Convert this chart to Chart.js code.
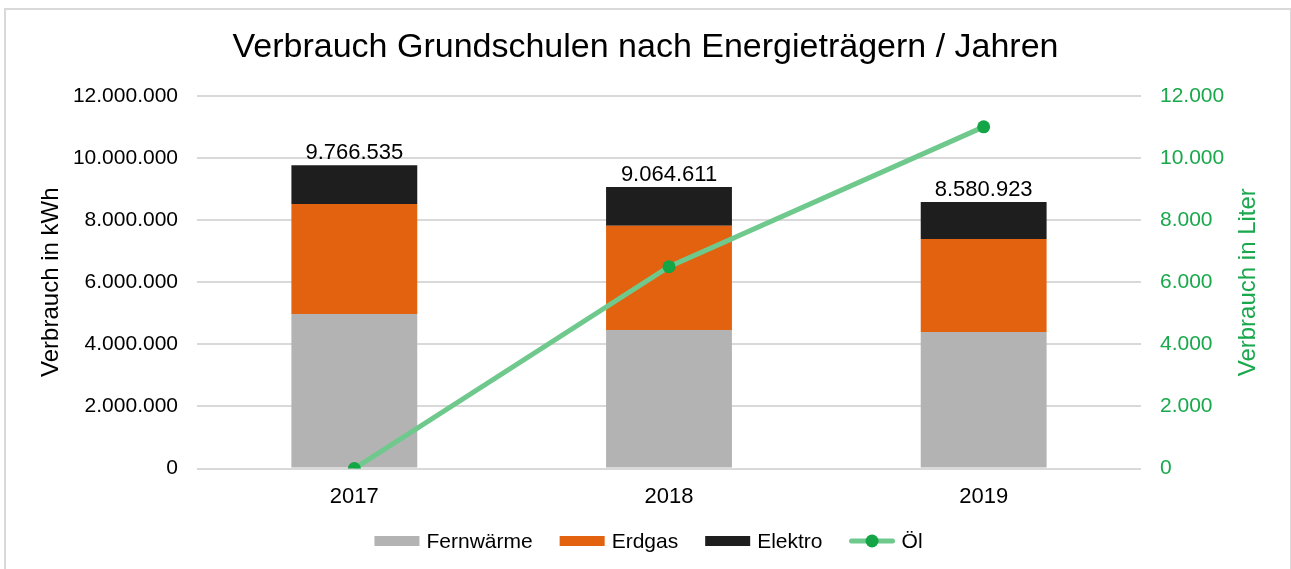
<!DOCTYPE html>
<html lang="de">
<head>
<meta charset="utf-8">
<title>Verbrauch Grundschulen</title>
<script src="https://cdn.jsdelivr.net/npm/chart.js@4.4.1/dist/chart.umd.min.js"></script>
<style>
  html, body { margin: 0; padding: 0; background: #fff; }
  #wrap { position: relative; width: 1291px; height: 569px; overflow: hidden; }
  #frame { position: absolute; left: 4px; top: 8px; width: 1284px; height: 600px;
           border: 2px solid #d9d9d9; pointer-events: none; }
  canvas { position: absolute; left: 0; top: 0; }
</style>
</head>
<body>
<div id="wrap">
  <canvas id="chart" width="1291" height="569"></canvas>
  <div id="frame"></div>
</div>
<script>
// Jahre und Verbrauchswerte je Energieträger
const years = ['2017', '2018', '2019'];
const fernwaerme = [4980000, 4460000, 4400000];
const erdgas = [3540000, 3360000, 2990000];
const elektro = [1246535, 1244611, 1190923];
const oel = [0, 6500, 11000];

const kwhTicks = [0, 2000000, 4000000, 6000000, 8000000, 10000000, 12000000];
const literTicks = [0, 2000, 4000, 6000, 8000, 10000, 12000];

const FONT = "'Liberation Sans', Arial, sans-serif";
const GREEN = '#1aa84c';
const LINE_GREEN = '#6fc98d';
const DOT_GREEN = '#13a546';

// Tausenderpunkte wie im Deutschen
function fmt(v) {
    return String(Math.round(v)).replace(/\B(?=(\d{3})+(?!\d))/g, '.');
}

// Summe über gestapelte Balken schreiben
const totalLabels = {
    id: 'totalLabels',
    afterDatasetsDraw(chart) {
        const ctx = chart.ctx;
        const y = chart.scales.y;
        const top = chart.getDatasetMeta(2);
        ctx.save();
        ctx.font = '22px ' + FONT;
        ctx.fillStyle = '#000';
        ctx.textAlign = 'center';
        ctx.textBaseline = 'bottom';
        years.forEach((yr, i) => {
            const sum = fernwaerme[i] + erdgas[i] + elektro[i];
            ctx.fillText(fmt(sum), top.data[i].x, y.getPixelForValue(sum) - 1);
        });
        ctx.restore();
    }
};

// rechte Achsenbeschriftung von unten nach oben lesen
const rightTitle = {
    id: 'rightTitle',
    afterDraw(chart) {
        const ctx = chart.ctx;
        const a = chart.chartArea;
        ctx.save();
        ctx.translate(chart.scales.y1.right - 43, (a.top + a.bottom) / 2);
        ctx.rotate(-Math.PI / 2);
        ctx.font = '24px ' + FONT;
        ctx.fillStyle = GREEN;
        ctx.textAlign = 'center';
        ctx.textBaseline = 'middle';
        ctx.fillText('Verbrauch in Liter', 0, 0);
        ctx.restore();
    }
};

// Legende unter der Achse, Öl mit Linie und Punkt
const legendRow = {
    id: 'legendRow',
    afterDraw(chart) {
        const ctx = chart.ctx;
        const ds = chart.data.datasets;
        const cy = 541, sym = 45, gapText = 7, gapItem = 27;
        ctx.save();
        ctx.font = '21px ' + FONT;
        const widths = ds.map(d => ctx.measureText(d.label).width);
        const total = widths.reduce((s, w) => s + sym + gapText + w, 0) + gapItem * (ds.length - 1);
        let x = (chart.width - total) / 2 + 3;
        ds.forEach((d, i) => {
            if (d.type === 'line') {
                ctx.strokeStyle = d.borderColor;
                ctx.lineWidth = 5;
                ctx.lineCap = 'round';
                ctx.beginPath(); ctx.moveTo(x + 2, cy); ctx.lineTo(x + sym - 2, cy); ctx.stroke();
                ctx.fillStyle = d.pointBackgroundColor;
                ctx.beginPath(); ctx.arc(x + sym / 2, cy, 6.5, 0, Math.PI * 2); ctx.fill();
            } else {
                ctx.fillStyle = d.backgroundColor;
                ctx.fillRect(x, cy - 5, sym, 10);
            }
            x += sym + gapText;
            ctx.fillStyle = '#000';
            ctx.textAlign = 'left';
            ctx.textBaseline = 'middle';
            ctx.fillText(d.label, x, cy + 1);
            x += widths[i] + gapItem;
        });
        ctx.restore();
    }
};

new Chart(document.getElementById('chart'), {
    type: 'bar',
    data: {
        labels: years,
        datasets: [
            { label: 'Fernwärme', data: fernwaerme, backgroundColor: '#b3b3b3', order: 1, yAxisID: 'y' },
            { label: 'Erdgas', data: erdgas, backgroundColor: '#e2620f', order: 1, yAxisID: 'y' },
            { label: 'Elektro', data: elektro, backgroundColor: '#1e1e1e', order: 1, yAxisID: 'y' },
            {
                type: 'line', label: 'Öl', data: oel, yAxisID: 'y1', order: 0,
                borderColor: LINE_GREEN, borderWidth: 5, backgroundColor: DOT_GREEN,
                pointRadius: 6.5, pointBackgroundColor: DOT_GREEN, pointBorderWidth: 0,
                pointHoverRadius: 6.5, tension: 0
            }
        ]
    },
    options: {
        responsive: false,
        animation: false,
        layout: { padding: { left: 0, right: 0, top: 0, bottom: 52 } },
        datasets: { bar: { barPercentage: 0.4, categoryPercentage: 1 } },
        plugins: {
            title: {
                display: true,
                text: 'Verbrauch Grundschulen nach Energieträgern / Jahren',
                color: '#000',
                font: { family: FONT, size: 34, weight: 'normal' },
                padding: { top: 27, bottom: 28 }
            },
            legend: { display: false },
            tooltip: { enabled: false }
        },
        scales: {
            x: {
                stacked: true,
                grid: { display: false },
                border: { display: false },
                ticks: { color: '#000', font: { family: FONT, size: 22 }, padding: 7 }
            },
            y: {
                stacked: true,
                position: 'left',
                min: 0, max: 12000000,
                afterBuildTicks(s) { s.ticks = kwhTicks.map(v => ({ value: v })); },
                afterFit(s) { s.width = 197; },
                grid: { color: '#d9d9d9', lineWidth: 2, drawTicks: false },
                border: { display: false },
                ticks: { color: '#000', font: { family: FONT, size: 21 }, padding: 19, callback: v => fmt(v) },
                title: {
                    display: true, text: 'Verbrauch in kWh', color: '#000',
                    font: { family: FONT, size: 24 }, padding: { top: 37, bottom: 0 }
                }
            },
            y1: {
                position: 'right',
                min: 0, max: 12000,
                afterBuildTicks(s) { s.ticks = literTicks.map(v => ({ value: v })); },
                afterFit(s) { s.width = 150; },
                grid: { display: false, drawTicks: false },
                border: { display: false },
                ticks: { color: GREEN, font: { family: FONT, size: 21 }, padding: 19, callback: v => fmt(v) }
            }
        }
    },
    plugins: [totalLabels, rightTitle, legendRow]
});
</script>
</body>
</html>
